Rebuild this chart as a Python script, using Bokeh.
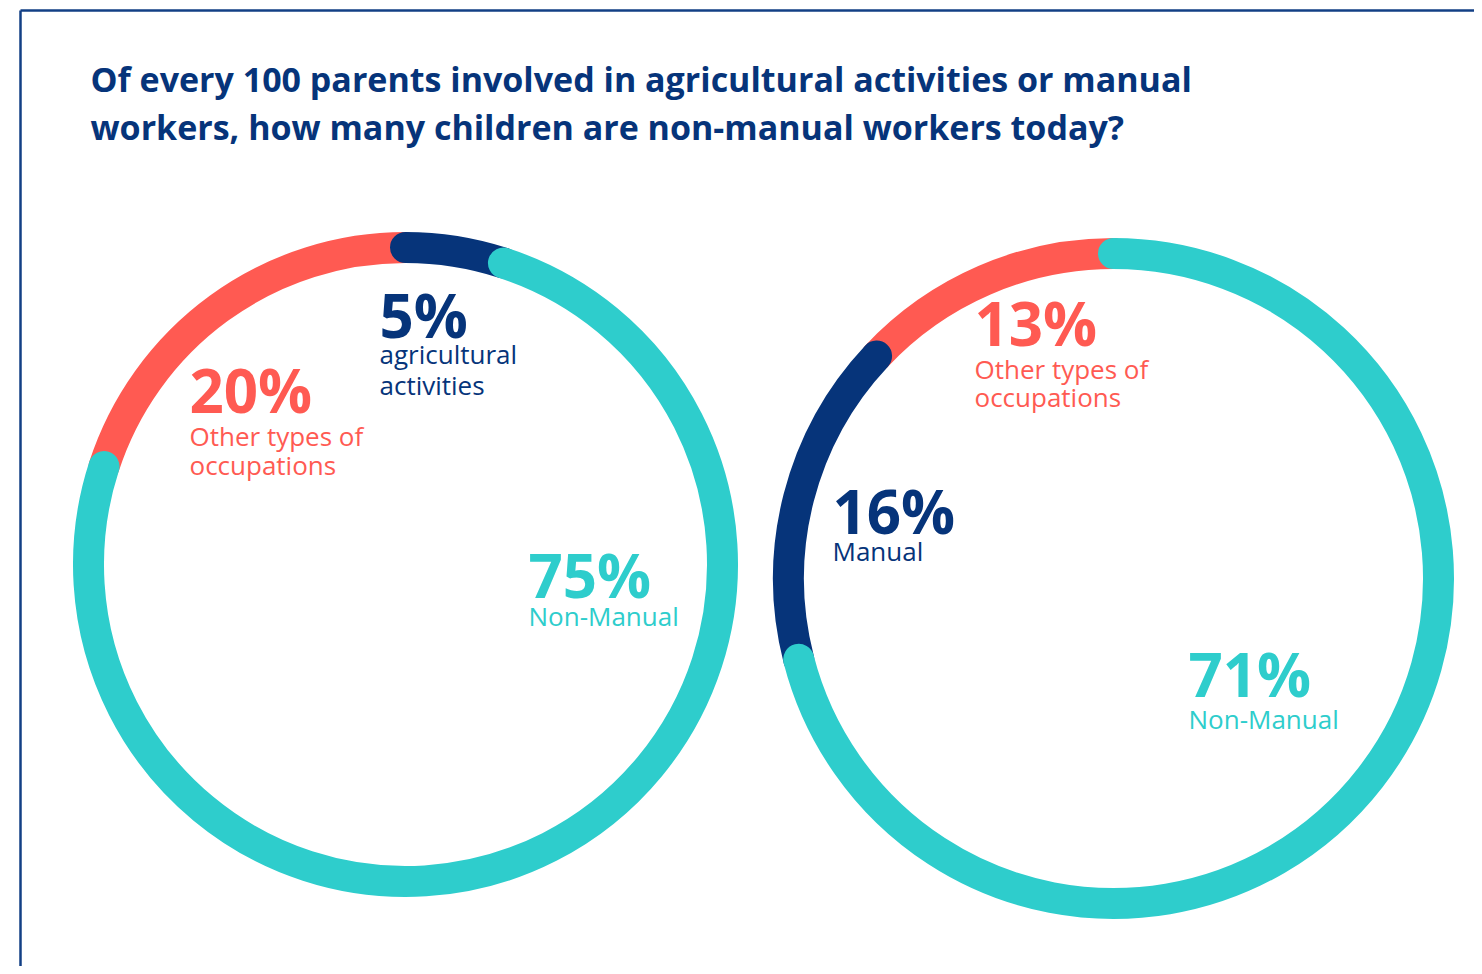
import numpy as np
from bokeh.plotting import figure
from bokeh.models import Range1d, ColumnDataSource
from bokeh.core.properties import value
from bokeh.embed import file_html
from bokeh.resources import INLINE

# ---------------- data ----------------
title_lines = [
    "Of every 100 parents involved in agricultural activities or manual",
    "workers, how many children are non-manual workers today?",
]

# left donut: parents in agricultural activities
left_categories = ["Other types of occupations", "agricultural activities", "Non-Manual"]
left_values = [20, 5, 75]
left_desc = [["Other types of", "occupations"], ["agricultural", "activities"], ["Non-Manual"]]

# right donut: parents who are manual workers
right_categories = ["Other types of occupations", "Manual", "Non-Manual"]
right_values = [13, 16, 71]
right_desc = [["Other types of", "occupations"], ["Manual"], ["Non-Manual"]]

# ---------------- style ----------------
NAVY = "#06347a"
RED = "#ff5a52"
TEAL = "#2ecdcc"
colors = [RED, NAVY, TEAL]
FONT = "Open Sans"

# measured baseline corrections of the svg text layout (px)
TITLE_DY = 14.5
NUM_DY = 22.5
DESC_DY = 12

W, H = 1474, 966
p = figure(width=W, height=H, x_range=Range1d(0, W), y_range=Range1d(-H, 0),
           output_backend="svg", toolbar_location=None, min_border=0)
p.axis.visible = False
p.grid.visible = False
p.outline_line_color = None
p.background_fill_color = "white"
p.border_fill_color = "white"

# frame lines (top and left)
p.line(x=[20, W], y=[-10, -10], line_color="#123f85", line_width=2.5)
p.line(x=[20, 20], y=[-10, -H], line_color="#123f85", line_width=2.5)

# title
p.text(x=[90, 90], y=[-93 + TITLE_DY, -141 + TITLE_DY], text=title_lines, text_color=NAVY,
       text_font=value(FONT), text_font_style="bold", text_font_size="34px",
       text_baseline="alphabetic", text_align="left")


def arcs(cx, cy, r, starts, ends):
    src = ColumnDataSource(dict(
        x=[cx] * len(starts), y=[-cy] * len(starts),
        start=[np.deg2rad(90 - s) for s in starts],
        end=[np.deg2rad(90 - e) for e in ends],
        color=colors,
    ))
    p.arc(x="x", y="y", radius=r, start_angle="start", end_angle="end",
          direction="clock", line_color="color", line_width=31, line_cap="round",
          source=src)


# left: red ends at 12 o'clock, navy starts there, teal follows (clockwise degrees)
lv = [v * 3.6 for v in left_values]
arcs(405, 564, 317,
     starts=[-lv[0], 0.0, lv[1]],
     ends=[0.0, lv[1], lv[1] + lv[2]])

# right: teal starts at 12 o'clock, navy follows, red closes the ring
rv = [v * 3.6 for v in right_values]
arcs(1113, 578, 325,
     starts=[rv[2] + rv[1], rv[2], 0.0],
     ends=[360.0, rv[2] + rv[1], rv[2]])


def label(x, y_base, pct, lines, color, desc_y):
    p.text(x=[x], y=[-y_base + NUM_DY], text=[f"{pct}%"], text_color=color,
           text_font=value(FONT), text_font_style="bold", text_font_size="60px",
           text_baseline="alphabetic", text_align="left")
    p.text(x=[x] * len(lines), y=[-d + DESC_DY for d in desc_y], text=lines, text_color=color,
           text_font=value(FONT), text_font_size="26px",
           text_baseline="alphabetic", text_align="left")


# left labels (red, navy, teal)
label(189, 412, left_values[0], left_desc[0], RED, [447, 476])
label(379, 337, left_values[1], left_desc[1], NAVY, [365, 396])
label(528, 597, left_values[2], left_desc[2], TEAL, [627])
# right labels
label(974, 345, right_values[0], right_desc[0], RED, [380, 408])
label(832, 533, right_values[1], right_desc[1], NAVY, [562])
label(1188, 696, right_values[2], right_desc[2], TEAL, [730])

open("out.html", "w").write(file_html(p, INLINE))
